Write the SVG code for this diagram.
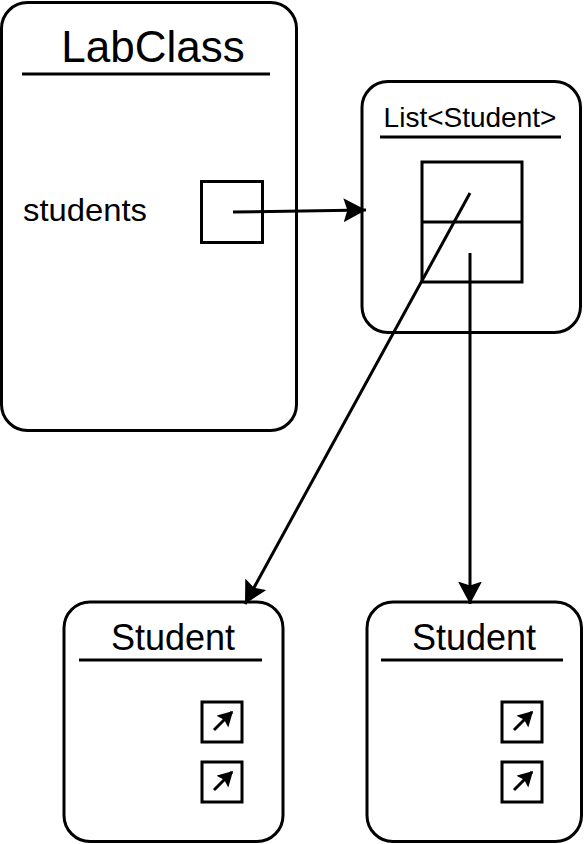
<svg xmlns="http://www.w3.org/2000/svg" width="584" height="844" viewBox="0 0 584 844">
<style>
.box{fill:#fff;stroke:#000;stroke-width:3}
.ul{stroke:#000;stroke-width:3}
.t{font-family:"Liberation Sans",Arial,sans-serif;fill:#000}
.sq{fill:none;stroke:#000;stroke-width:3}
.con{stroke:#000;stroke-width:3;fill:none}
.mini{stroke:#000;stroke-width:3;fill:none}
</style>
<defs>
<marker id="ah" markerWidth="9" markerHeight="9" refX="7.5" refY="4" orient="auto" markerUnits="strokeWidth">
<path d="M0,0 L7.5,4 L0,8 L1.3,4 Z" fill="#000"/>
</marker>
<marker id="ahs" markerWidth="6" markerHeight="6" refX="4.5" refY="2.75" orient="auto" markerUnits="strokeWidth">
<path d="M0,0 L5,2.75 L0,5.5 L0.8,2.75 Z" fill="#000"/>
</marker>
</defs>
<g id="labclass">
<rect class="box" x="1.5" y="2.5" width="295" height="428" rx="26"/>
<text class="t" x="153" y="62" font-size="44" text-anchor="middle">LabClass</text>
<line class="ul" x1="22" y1="74" x2="270" y2="74"/>
<text class="t" x="23" y="221" font-size="32" textLength="124" lengthAdjust="spacingAndGlyphs">students</text>
<rect class="sq" x="201.5" y="181.5" width="61" height="61"/>
</g>
<g id="list">
<rect class="box" x="362" y="81.5" width="218.5" height="251" rx="26"/>
<text class="t" x="470" y="127" font-size="28" text-anchor="middle">List&lt;Student&gt;</text>
<line class="ul" x1="380" y1="137" x2="561" y2="137"/>
<rect class="sq" x="422" y="162" width="100" height="120"/>
<line class="ul" x1="422" y1="222" x2="522" y2="222"/>
</g>
<g id="student1">
<rect class="box" x="64" y="602" width="219" height="239.5" rx="26"/>
<text class="t" x="173" y="650" font-size="36" text-anchor="middle">Student</text>
<line class="ul" x1="79" y1="660" x2="262" y2="660"/>
<rect class="sq" x="202" y="702" width="40" height="40"/>
<line class="mini" x1="214" y1="730" x2="232" y2="712" marker-end="url(#ahs)"/>
<rect class="sq" x="202" y="762" width="40" height="40"/>
<line class="mini" x1="214" y1="790" x2="232" y2="772" marker-end="url(#ahs)"/>
</g>
<g id="student2">
<rect class="box" x="367" y="602" width="214.5" height="239.5" rx="26"/>
<text class="t" x="474" y="650" font-size="36" text-anchor="middle">Student</text>
<line class="ul" x1="381" y1="660" x2="563" y2="660"/>
<rect class="sq" x="502" y="702" width="40" height="40"/>
<line class="mini" x1="514" y1="730" x2="532" y2="712" marker-end="url(#ahs)"/>
<rect class="sq" x="502" y="762" width="40" height="40"/>
<line class="mini" x1="514" y1="790" x2="532" y2="772" marker-end="url(#ahs)"/>
</g>
<g id="connectors">
<line class="con" x1="233" y1="212" x2="366" y2="210" marker-end="url(#ah)"/>
<line class="con" x1="470" y1="193" x2="245" y2="604" marker-end="url(#ah)"/>
<line class="con" x1="470" y1="253" x2="470" y2="604" marker-end="url(#ah)"/>
</g>
</svg>
